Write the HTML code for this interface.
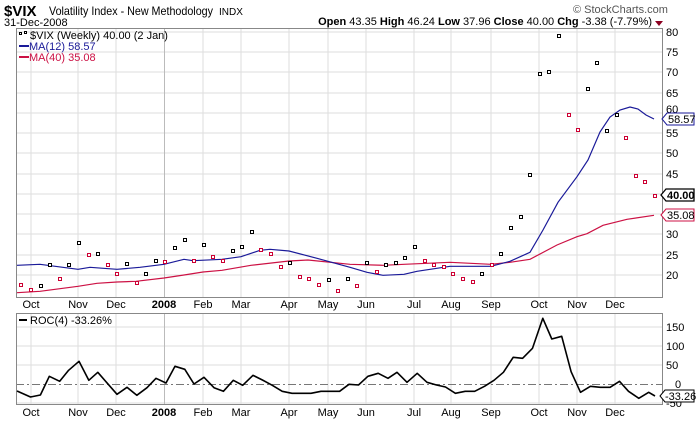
<!DOCTYPE html>
<html><head><meta charset="utf-8"><style>
body{margin:0;background:#fff;width:700px;height:421px;overflow:hidden}
svg{display:block;font-family:"Liberation Sans",Arial,sans-serif}
</style></head><body>
<svg width="700" height="421" viewBox="0 0 700 421">
<rect width="700" height="421" fill="#fff"/>
<!-- header -->
<text x="4" y="16" font-size="15" font-weight="bold">$VIX</text>
<text x="49" y="15" font-size="12" textLength="164" lengthAdjust="spacingAndGlyphs">Volatility Index - New Methodology</text>
<text x="219" y="15" font-size="10">INDX</text>
<text x="4" y="26" font-size="11">31-Dec-2008</text>
<text x="573" y="13" font-size="11" fill="#555">© StockCharts.com</text>
<text x="652" y="25" font-size="11" text-anchor="end"><tspan font-weight="bold">Open</tspan> 43.35 <tspan font-weight="bold">High</tspan> 46.24 <tspan font-weight="bold">Low</tspan> 37.96 <tspan font-weight="bold">Close</tspan> 40.00 <tspan font-weight="bold">Chg</tspan> -3.38 (-7.79%)</text>
<polygon points="655,21 663,21 659,26" fill="#8b0020"/>
<!-- grids -->
<g stroke="#ddd" stroke-width="1" shape-rendering="crispEdges">
<line x1="31" y1="28" x2="31" y2="297"/><line x1="78" y1="28" x2="78" y2="297"/><line x1="116" y1="28" x2="116" y2="297"/><line x1="203" y1="28" x2="203" y2="297"/><line x1="241" y1="28" x2="241" y2="297"/><line x1="289" y1="28" x2="289" y2="297"/><line x1="328" y1="28" x2="328" y2="297"/><line x1="366" y1="28" x2="366" y2="297"/><line x1="414" y1="28" x2="414" y2="297"/><line x1="451" y1="28" x2="451" y2="297"/><line x1="491" y1="28" x2="491" y2="297"/><line x1="539" y1="28" x2="539" y2="297"/><line x1="577" y1="28" x2="577" y2="297"/><line x1="615" y1="28" x2="615" y2="297"/>
<line x1="31" y1="313" x2="31" y2="404"/><line x1="78" y1="313" x2="78" y2="404"/><line x1="116" y1="313" x2="116" y2="404"/><line x1="203" y1="313" x2="203" y2="404"/><line x1="241" y1="313" x2="241" y2="404"/><line x1="289" y1="313" x2="289" y2="404"/><line x1="328" y1="313" x2="328" y2="404"/><line x1="366" y1="313" x2="366" y2="404"/><line x1="414" y1="313" x2="414" y2="404"/><line x1="451" y1="313" x2="451" y2="404"/><line x1="491" y1="313" x2="491" y2="404"/><line x1="539" y1="313" x2="539" y2="404"/><line x1="577" y1="313" x2="577" y2="404"/><line x1="615" y1="313" x2="615" y2="404"/>
<line x1="16" y1="32" x2="662" y2="32"/><line x1="16" y1="52" x2="662" y2="52"/><line x1="16" y1="72" x2="662" y2="72"/><line x1="16" y1="93" x2="662" y2="93"/><line x1="16" y1="113" x2="662" y2="113"/><line x1="16" y1="133" x2="662" y2="133"/><line x1="16" y1="153" x2="662" y2="153"/><line x1="16" y1="174" x2="662" y2="174"/><line x1="16" y1="194" x2="662" y2="194"/><line x1="16" y1="214" x2="662" y2="214"/><line x1="16" y1="234" x2="662" y2="234"/><line x1="16" y1="255" x2="662" y2="255"/><line x1="16" y1="275" x2="662" y2="275"/>
<line x1="16" y1="327" x2="662" y2="327"/><line x1="16" y1="346" x2="662" y2="346"/><line x1="16" y1="365" x2="662" y2="365"/><line x1="16" y1="403" x2="662" y2="403"/>
</g>
<line x1="164.5" y1="28" x2="164.5" y2="297" stroke="#bbb"/>
<line x1="164.5" y1="313" x2="164.5" y2="404" stroke="#bbb"/>
<line x1="16" y1="384.5" x2="662" y2="384.5" stroke="#777" stroke-dasharray="8,3,2,3"/>
<!-- frames -->
<rect x="16.5" y="28.5" width="646" height="269" fill="none" stroke="#888"/>
<rect x="16.5" y="313.5" width="646" height="91" fill="none" stroke="#888"/>
<!-- MA lines -->
<polyline fill="none" stroke="#cc1144" stroke-width="1.2" points="17,292.7 40,291.3 78,286.3 97,283.3 117,282 136,281.3 164,278 184,275 203,272 222,270.3 251,265.3 289,261 308,260 350,264.3 383,265.3 404,264.3 450,262.3 491,264.3 510,262.3 530,259.3 557,245 577,236.7 587,233.7 603,225.3 627,219.3 654,215.3"/>
<polyline fill="none" stroke="#1a1a99" stroke-width="1.2" points="17,265.3 40,264.3 78,269.3 90,267.3 117,269.3 140,267.3 164,264.3 184,259.3 193,260.7 222,259.3 241,256.7 260,250.3 270,249.3 289,251 317,258.3 350,267.3 367,272.3 383,275.3 404,274.3 417,271.3 450,266.3 491,266.3 510,261.3 530,252.3 543,230 558,202.3 577,176.7 588,160 600,132 610,117 620,110 630,107 638,109 646,115 654,119"/>
<!-- points -->
<g fill="#fff" stroke-width="1" shape-rendering="crispEdges" transform="translate(0.5,0.5)">
<g stroke="#cc0033">
<rect x="19" y="283" width="3" height="3"/><rect x="29" y="288" width="3" height="3"/><rect x="58" y="277" width="3" height="3"/><rect x="87" y="253" width="3" height="3"/><rect x="106" y="263" width="3" height="3"/><rect x="115" y="272" width="3" height="3"/><rect x="135" y="281" width="3" height="3"/><rect x="163" y="260" width="3" height="3"/><rect x="192" y="259" width="3" height="3"/><rect x="211" y="255" width="3" height="3"/><rect x="221" y="259" width="3" height="3"/><rect x="259" y="248" width="3" height="3"/><rect x="269" y="252" width="3" height="3"/><rect x="279" y="265" width="3" height="3"/><rect x="298" y="275" width="3" height="3"/><rect x="307" y="277" width="3" height="3"/><rect x="317" y="283" width="3" height="3"/><rect x="336" y="289" width="3" height="3"/><rect x="355" y="284" width="3" height="3"/><rect x="375" y="270" width="3" height="3"/><rect x="423" y="259" width="3" height="3"/><rect x="432" y="263" width="3" height="3"/><rect x="442" y="265" width="3" height="3"/><rect x="451" y="272" width="3" height="3"/><rect x="461" y="277" width="3" height="3"/><rect x="471" y="280" width="3" height="3"/><rect x="490" y="263" width="3" height="3"/><rect x="567" y="113" width="3" height="3"/><rect x="576" y="128" width="3" height="3"/><rect x="624" y="136" width="3" height="3"/><rect x="634" y="174" width="3" height="3"/><rect x="643" y="180" width="3" height="3"/><rect x="653" y="194" width="3" height="3"/>
</g>
<g stroke="#000">
<rect x="39" y="284" width="3" height="3"/><rect x="48" y="263" width="3" height="3"/><rect x="67" y="263" width="3" height="3"/><rect x="77" y="241" width="3" height="3"/><rect x="96" y="252" width="3" height="3"/><rect x="125" y="262" width="3" height="3"/><rect x="144" y="272" width="3" height="3"/><rect x="154" y="259" width="3" height="3"/><rect x="173" y="246" width="3" height="3"/><rect x="183" y="238" width="3" height="3"/><rect x="202" y="243" width="3" height="3"/><rect x="231" y="249" width="3" height="3"/><rect x="240" y="245" width="3" height="3"/><rect x="250" y="230" width="3" height="3"/><rect x="288" y="261" width="3" height="3"/><rect x="327" y="278" width="3" height="3"/><rect x="346" y="277" width="3" height="3"/><rect x="365" y="261" width="3" height="3"/><rect x="384" y="263" width="3" height="3"/><rect x="394" y="261" width="3" height="3"/><rect x="403" y="256" width="3" height="3"/><rect x="413" y="245" width="3" height="3"/><rect x="480" y="272" width="3" height="3"/><rect x="499" y="252" width="3" height="3"/><rect x="509" y="226" width="3" height="3"/><rect x="519" y="215" width="3" height="3"/><rect x="528" y="173" width="3" height="3"/><rect x="538" y="72" width="3" height="3"/><rect x="547" y="70" width="3" height="3"/><rect x="557" y="34" width="3" height="3"/><rect x="586" y="87" width="3" height="3"/><rect x="595" y="61" width="3" height="3"/><rect x="605" y="129" width="3" height="3"/><rect x="615" y="113" width="3" height="3"/>
</g>
<rect x="19" y="32" width="2" height="2" stroke="#000"/><rect x="24" y="31" width="2" height="2" stroke="#000"/>
</g>
<!-- legend -->
<text x="30" y="39" font-size="11">$VIX (Weekly) 40.00 (2 Jan)</text>
<line x1="19" y1="46" x2="29" y2="46" stroke="#1a1a99" stroke-width="2"/>
<text x="29" y="50" font-size="11" fill="#1a1a99">MA(12) 58.57</text>
<line x1="19" y1="57" x2="29" y2="57" stroke="#cc1144" stroke-width="2"/>
<text x="29" y="61" font-size="11" fill="#cc1144">MA(40) 35.08</text>
<!-- price axis labels -->
<g font-size="11" fill="#000">
<text x="666" y="36">80</text><text x="666" y="56">75</text><text x="666" y="76">70</text><text x="666" y="97">65</text><text x="666" y="137">55</text><text x="666" y="157">50</text><text x="666" y="178">45</text><text x="666" y="238">30</text><text x="666" y="259">25</text><text x="666" y="279">20</text><text x="666" y="113">60</text>
</g>
<polygon points="662,119 667,113 694,113 694,125 667,125" fill="#fff" stroke="#1a1a99"/>
<text x="668" y="123" font-size="11">58.57</text>
<polygon points="661,195 666,189 694,189 694,201 666,201" fill="#fff" stroke="#000" stroke-width="1.3"/>
<text x="667" y="199" font-size="11" font-weight="bold">40.00</text>
<polygon points="661,215 666,209 694,209 694,221 666,221" fill="#fff" stroke="#cc1144"/>
<text x="667" y="219" font-size="11">35.08</text>
<!-- month labels -->
<g font-size="11" text-anchor="middle">
<text x="31" y="308">Oct</text><text x="78" y="308">Nov</text><text x="116" y="308">Dec</text><text x="164" y="308" font-weight="bold">2008</text><text x="203" y="308">Feb</text><text x="241" y="308">Mar</text><text x="289" y="308">Apr</text><text x="328" y="308">May</text><text x="366" y="308">Jun</text><text x="414" y="308">Jul</text><text x="451" y="308">Aug</text><text x="491" y="308">Sep</text><text x="539" y="308">Oct</text><text x="577" y="308">Nov</text><text x="615" y="308">Dec</text>
<text x="31" y="416">Oct</text><text x="78" y="416">Nov</text><text x="116" y="416">Dec</text><text x="164" y="416" font-weight="bold">2008</text><text x="203" y="416">Feb</text><text x="241" y="416">Mar</text><text x="289" y="416">Apr</text><text x="328" y="416">May</text><text x="366" y="416">Jun</text><text x="414" y="416">Jul</text><text x="451" y="416">Aug</text><text x="491" y="416">Sep</text><text x="539" y="416">Oct</text><text x="577" y="416">Nov</text><text x="615" y="416">Dec</text>
</g>
<!-- ROC -->
<line x1="19" y1="320" x2="27" y2="320" stroke="#000" stroke-width="2"/>
<text x="30" y="324" font-size="11">ROC(4) -33.26%</text>
<polyline fill="none" stroke="#000" stroke-width="1.6" stroke-linejoin="round" points="17,391 30.5,397 40.4,395 49.3,376.3 59.7,381.3 68.6,370.3 79,361.3 88.8,380.3 97.8,372.3 107.7,383.7 117,394.3 127,387.3 136.8,395.3 147,387.7 156,378.3 166,383 175,366.3 184.8,369.3 194,384 204,377.3 214,387.7 223.4,391.3 233.3,380.3 242.7,385.3 253,375.3 262.4,380 272.3,385.3 282.2,391.3 292,393.3 301,393.3 311,393.3 321,391.3 330,391.3 339.6,391.3 349,384.3 358.5,385 367.9,376.3 378.2,373.3 388,378.3 397,372.3 407,382.3 417.2,373.3 427,382.3 436.5,385 445.5,387 455.4,393.3 465.2,391.3 474.7,391.3 484.5,386.3 494,380.3 503.4,372.3 513.2,357.3 522.6,358.3 532.5,348.3 542.8,318.3 551.8,339 561.7,336.3 571.1,371.7 580.5,392.3 590.4,386.3 600.3,387.3 610.1,387.3 619.5,381.3 628.5,391.3 638.8,398.3 648.7,392.3 655,396"/>
<g font-size="11">
<text x="666" y="331">150</text><text x="666" y="350">100</text><text x="666" y="369">50</text><text x="675" y="388">0</text><text x="666" y="407">-50</text>
</g>
<polygon points="660,396 665,390 694,390 694,402 665,402" fill="#fff" stroke="#000"/>
<text x="665" y="400" font-size="11">-33.26</text>
</svg>
</body></html>
